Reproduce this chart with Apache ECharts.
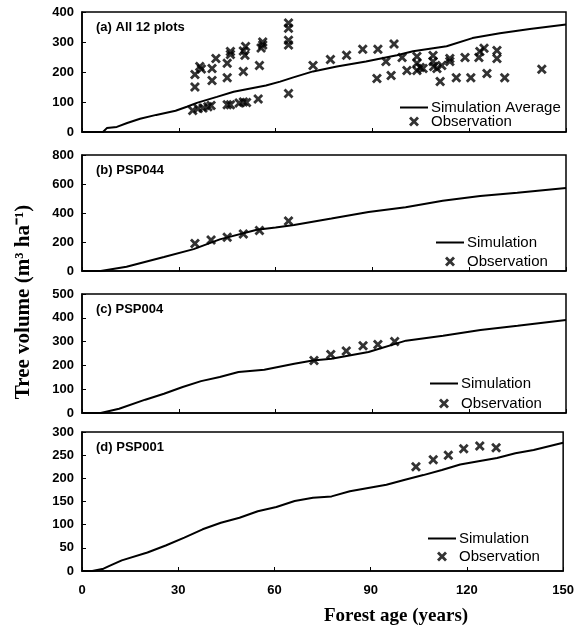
<!DOCTYPE html>
<html lang="en">
<head>
    <meta charset="UTF-8">
    <title>Tree volume vs forest age</title>
    <script type="text/javascript" src="https://cdn.jsdelivr.net/npm/echarts@6/dist/echarts.min.js"></script>
    <style>
        body { margin: 0; background: #fff; }
        #main { width: 577px; height: 631px; }
    </style>
</head>
<body>
<div id="main"></div>
<script>
    // x ticks shared by all panels
    var ageTicks = [0, 30, 60, 90, 120, 150];

    // (a) All 12 plots
    var simAAge = [0, 6.5, 7.7, 10.8, 14, 18, 23, 29, 32.5, 35.6, 41.8, 47, 53, 57, 61.4, 65.5, 71.6, 79, 88, 97.6, 102.6, 113, 121, 129.5, 138.8, 150];
    var simAVol = [0, 0, 13, 17, 30, 44, 57, 71, 84, 97, 117, 134, 147, 155, 168, 182, 202, 218, 235, 256, 269, 286, 313, 329, 343, 358];
    var obsAAge = [35, 35, 36.5, 37, 40.3, 40.3, 41.5, 45, 45, 46, 46, 50, 50.5, 50.7, 50, 55, 56, 56, 55.5, 64, 64, 64, 64, 64,
        34.3, 36, 37.5, 39, 40, 45, 46, 48.7, 50, 51, 54.6,
        71.6, 77, 82, 87, 91.7, 96.7, 91.4, 94.2, 95.8, 99.2, 100.7, 103.8, 103.8, 103.8, 104.8, 105.7, 108.8, 108.8, 109, 110, 111, 111.5,
        114, 114, 116, 118.7, 120.5, 123, 123.3, 124.6, 125.5, 128.6, 128.6, 131, 142.5];
    var obsAVol = [150, 192, 218, 210, 212, 172, 245, 229, 181, 268, 258, 202, 256, 285, 270, 222, 290, 300, 280, 363, 346, 306, 290, 128,
        72, 78, 80, 84, 88, 91, 91, 97, 100, 98, 110,
        222, 242, 256, 276, 276, 293, 178, 235, 188, 248, 205, 252, 229, 205, 215, 212, 255, 235, 218, 212, 168, 222,
        245, 235, 181, 248, 181, 248, 268, 279, 195, 272, 245, 181, 209];

    // (b) PSP044
    var simBAge = [0, 5.8, 13.8, 25.4, 34.6, 42.7, 54.2, 60, 65.7, 77.3, 88.8, 100.3, 111.8, 123.4, 134.9, 150];
    var simBVol = [0, 0, 29, 96, 151, 218, 284, 300, 318, 362, 407, 440, 484, 518, 540, 573];
    var obsBAge = [35, 40, 45, 50, 55, 64];
    var obsBVol = [190, 213, 232, 255, 280, 345];

    // (c) PSP004
    var simCAge = [0, 5.8, 11.5, 19.6, 25.4, 31.2, 36.9, 42.7, 48.5, 56.5, 65.8, 71.5, 77.3, 88.8, 100.4, 111.9, 123.5, 135, 150];
    var simCVol = [0, 0, 18, 56, 81, 109, 134, 151, 172, 182, 207, 221, 228, 256, 304, 325, 349, 367, 391];
    var obsCAge = [71.9, 77.1, 81.9, 87.1, 91.7, 96.9];
    var obsCVol = [221, 246, 260, 283, 288, 300];

    // (d) PSP001
    var simDAge = [0, 3.2, 6.7, 8.9, 12.4, 20.4, 26.1, 31.9, 37.6, 43.3, 49.1, 54.8, 60.6, 66.3, 72, 77.8, 83.5, 89.2, 94.9, 100.7, 106.4, 112.2, 117.9, 123.6, 129.4, 135.1, 140.8, 150];
    var simDVol = [0, 0, 5, 12, 23, 40, 55, 72, 90, 104, 115, 129, 138, 151, 158, 161, 172, 179, 186, 197, 207, 218, 230, 237, 244, 254, 261, 277];
    var obsDAge = [104.1, 109.5, 114.2, 119, 124, 129.1];
    var obsDVol = [225, 240, 250, 264, 270, 266];

    var panels = [
        {label: '(a) All 12 plots', simName: 'Simulation Average', max: 400, step: 100, sa: simAAge, sv: simAVol, oa: obsAAge, ov: obsAVol},
        {label: '(b) PSP044', simName: 'Simulation', max: 800, step: 200, sa: simBAge, sv: simBVol, oa: obsBAge, ov: obsBVol},
        {label: '(c) PSP004', simName: 'Simulation', max: 500, step: 100, sa: simCAge, sv: simCVol, oa: obsCAge, ov: obsCVol},
        {label: '(d) PSP001', simName: 'Simulation', max: 300, step: 50, sa: simDAge, sv: simDVol, oa: obsDAge, ov: obsDVol}
    ];

    // pixel layout of the four boxes
    var boxes = [
        {top: 12, height: 120},
        {top: 155, height: 116},
        {top: 294, height: 119},
        {top: 432, height: 139}
    ];
    var legendPos = [
        {left: 400, top: 100, gap: -1},
        {left: 436, top: 235, gap: 4},
        {left: 430, top: 376, gap: 5},
        {left: 428, top: 531, gap: 3}
    ];

    var xMark = 'path://M0,2 L2,0 L5,3 L8,0 L10,2 L7,5 L10,8 L8,10 L5,7 L2,10 L0,8 L3,5 Z';
    var labelFont = 'Liberation Sans, Arial, sans-serif';
    var serifFont = '"Liberation Serif", "Times New Roman", serif';

    function pairs(a, b) {
        var out = [];
        for (var i = 0; i < a.length; i++) out.push([a[i], b[i]]);
        return out;
    }

    var grid = [], xAxis = [], yAxis = [], series = [], legend = [], graphic = [];
    for (var i = 0; i < panels.length; i++) {
        var p = panels[i];
        grid.push({left: 82, width: 484, top: boxes[i].top, height: boxes[i].height,
            show: true, borderColor: '#000', borderWidth: 1.5, backgroundColor: 'transparent'});
        xAxis.push({
            type: 'value', gridIndex: i, min: 0, max: 150, interval: 30,
            axisLine: {show: true, onZero: false, lineStyle: {color: '#000', width: 1.5}},
            axisTick: {show: true, inside: true, length: 4, lineStyle: {color: '#000'}},
            axisLabel: {show: i === 3, color: '#000', fontWeight: 'bold', fontSize: 13, fontFamily: labelFont, margin: 13},
            splitLine: {show: false}
        });
        yAxis.push({
            type: 'value', gridIndex: i, min: 0, max: p.max, interval: p.step,
            axisLine: {show: true, lineStyle: {color: '#000', width: 1.5}},
            axisTick: {show: true, inside: true, length: 4, lineStyle: {color: '#000'}},
            axisLabel: {color: '#000', fontWeight: 'bold', fontSize: 13, fontFamily: labelFont, margin: 8},
            splitLine: {show: false}
        });
        series.push({
            name: p.simName, type: 'line', xAxisIndex: i, yAxisIndex: i,
            data: pairs(p.sa, p.sv), symbol: 'none', smooth: false,
            lineStyle: {color: '#000', width: 2}, itemStyle: {color: '#000'}
        });
        series.push({
            name: 'Observation', type: 'scatter', xAxisIndex: i, yAxisIndex: i,
            data: pairs(p.oa, p.ov), symbol: xMark, symbolSize: 10,
            itemStyle: {color: '#000'}
        });
        legend.push({
            orient: 'vertical', left: legendPos[i].left, top: legendPos[i].top,
            itemWidth: 28, itemHeight: 10, itemGap: legendPos[i].gap, selectedMode: false,
            data: [{name: p.simName, icon: 'path://M0,4 L28,4 L28,6 L0,6 Z'},
                {name: 'Observation'}],
            textStyle: {color: '#000', fontSize: 15, fontFamily: labelFont, padding: [0, 0, 0, -2]},
            padding: 0
        });
        graphic.push({
            type: 'text', left: 96, top: boxes[i].top + 9,
            style: {text: p.label, fill: '#000', font: 'bold 13px ' + labelFont}
        });
    }

    // axis names as free text
    graphic.push({
        type: 'text', left: 324, top: 607,
        style: {text: 'Forest age (years)', fill: '#000', font: 'bold 19px ' + serifFont, align: 'center'}
    });
    graphic.push({
        type: 'text', x: 24, y: 302, rotation: Math.PI / 2,
        style: {text: 'Tree volume (m\u00b3 ha\u207b\u00b9)', fill: '#000', font: 'bold 21px ' + serifFont,
            align: 'center', verticalAlign: 'middle'}
    });

    var myChart = echarts.init(document.getElementById('main'), null, {renderer: 'canvas'});
    myChart.setOption({
        animation: false,
        backgroundColor: '#fff',
        grid: grid,
        xAxis: xAxis,
        yAxis: yAxis,
        legend: legend,
        series: series,
        graphic: graphic
    });
</script>
</body>
</html>
